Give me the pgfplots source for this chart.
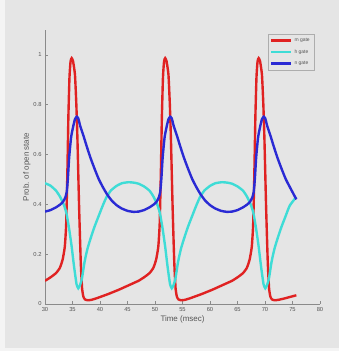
\documentclass[border=0pt]{standalone}
\usepackage{pgfplots}
\pgfplotsset{compat=1.18}
\usepackage{fontspec}
\setmainfont{Liberation Sans}
\definecolor{bgpanel}{HTML}{E5E5E5}
\definecolor{bgout}{HTML}{F4F4F4}
\definecolor{mred}{HTML}{E02222}
\definecolor{hcyan}{HTML}{3EDCD6}
\definecolor{nblue}{HTML}{2A2AD4}
\definecolor{axgray}{HTML}{8A8A8A}
\definecolor{txtgray}{HTML}{555555}
\begin{document}
\begin{tikzpicture}
\fill[bgout] (0,0) rectangle (339bp,351bp);
\fill[bgpanel] (5bp,3bp) rectangle (339bp,351bp);
\begin{axis}[
  at={(45bp,47bp)}, anchor=south west,
  scale only axis, width=275bp, height=274bp,
  xmin=30, xmax=80, ymin=0, ymax=1.1,
  axis x line*=bottom, axis y line*=left,
  axis line style={axgray, line width=0.6pt},
  tick style={axgray, line width=0.5pt},
  tick align=inside, major tick length=3bp,
  xtick={30,35,40,45,50,55,60,65,70,75,80},
  ytick={0,0.2,0.4,0.6,0.8,1},
  yticklabels={0,0.2,0.4,0.6,0.8,1},
  /pgf/number format/assume math mode=true,
  tick label style={font=\fontsize{5.8}{6.5}\selectfont, text=txtgray},
  xlabel={Time (msec)}, ylabel={Prob. of open state},
  label style={font=\fontsize{8}{9}\selectfont, text=txtgray},
  xlabel style={yshift=3bp},
  ylabel style={yshift=-4bp},
  legend style={at={(0.978,0.985)}, anchor=north east, draw=axgray!70, fill=bgpanel,
    font=\fontsize{5}{6}\selectfont, text=txtgray, row sep=2.6bp, inner sep=2bp},
  legend cell align=left,
  legend image code/.code={\draw[#1] (0bp,0bp) -- (20bp,0bp);},
]
\addplot[mred, line width=2.4pt, smooth, tension=0.3] coordinates {
(30,0.093)(31,0.107)(32,0.124)(32.7,0.145)(33.2,0.178)(33.6,0.23)(33.85,0.32)(34.06,0.52)(34.25,0.75)(34.45,0.91)(34.65,0.975)(34.85,0.987)(35.1,0.975)(35.45,0.92)(35.7,0.8)(35.9,0.66)(36.2,0.39)(36.5,0.17)(36.75,0.06)(37.0,0.028)(37.3,0.018)(37.8,0.015)(38.5,0.017)(39.5,0.024)(40.5,0.032)(41.5,0.040)(42.5,0.049)(43.5,0.058)(44.5,0.068)(45.5,0.078)(46.5,0.088)
(47,0.093)(48,0.107)(49,0.124)(49.7,0.145)(50.2,0.178)(50.6,0.23)(50.85,0.32)(51.06,0.52)(51.25,0.75)(51.45,0.91)(51.65,0.975)(51.85,0.987)(52.1,0.975)(52.45,0.92)(52.7,0.8)(52.9,0.66)(53.2,0.39)(53.5,0.17)(53.75,0.06)(54.0,0.028)(54.3,0.018)(54.8,0.015)(55.5,0.017)(56.5,0.024)(57.5,0.032)(58.5,0.040)(59.5,0.049)(60.5,0.058)(61.5,0.068)(62.5,0.078)(63.5,0.088)
(64,0.093)(65,0.107)(66,0.124)(66.7,0.145)(67.2,0.178)(67.6,0.23)(67.85,0.32)(68.06,0.52)(68.25,0.75)(68.45,0.91)(68.65,0.975)(68.85,0.987)(69.1,0.975)(69.45,0.92)(69.7,0.8)(69.9,0.66)(70.2,0.39)(70.5,0.17)(70.75,0.06)(71.0,0.028)(71.3,0.018)(71.8,0.015)(72.5,0.017)(73.5,0.022)(74.5,0.028)(75.7,0.035)
};
\addlegendentry{m gate}
\addplot[hcyan, line width=2.4pt, smooth, tension=0.3] coordinates {
(30,0.485)(31,0.475)(32,0.455)(32.7,0.432)(33.4,0.40)(33.9,0.364)(34.4,0.30)(34.85,0.23)(35.2,0.165)(35.45,0.123)(35.75,0.078)(36.05,0.063)(36.35,0.075)(36.7,0.1)(37.2,0.17)(37.7,0.22)(38.2,0.257)(39.0,0.31)(39.7,0.35)(40.5,0.395)(41.2,0.43)(42.0,0.456)(43.0,0.474)(44.0,0.485)(45.2,0.489)(46.2,0.487)
(47,0.483)(48,0.472)(49,0.455)(49.7,0.432)(50.4,0.40)(50.9,0.364)(51.4,0.30)(51.85,0.23)(52.2,0.165)(52.45,0.123)(52.75,0.078)(53.05,0.063)(53.35,0.075)(53.7,0.1)(54.2,0.17)(54.7,0.22)(55.2,0.257)(56.0,0.31)(56.7,0.35)(57.5,0.395)(58.2,0.43)(59.0,0.456)(60.0,0.474)(61.0,0.485)(62.2,0.489)(63.2,0.487)
(64,0.483)(65,0.472)(66,0.455)(66.7,0.432)(67.4,0.40)(67.9,0.364)(68.4,0.30)(68.85,0.23)(69.2,0.165)(69.45,0.123)(69.75,0.078)(70.05,0.063)(70.35,0.075)(70.7,0.1)(71.2,0.17)(71.7,0.22)(72.2,0.257)(73.0,0.31)(73.7,0.35)(74.5,0.395)(75.7,0.43)
};
\addlegendentry{h gate}
\addplot[nblue, line width=2.4pt, smooth, tension=0.3] coordinates {
(30,0.371)(31,0.377)(32,0.388)(32.8,0.40)(33.3,0.411)(33.7,0.428)(33.95,0.45)(34.15,0.50)(34.4,0.59)(34.75,0.67)(35.15,0.715)(35.45,0.742)(35.76,0.752)(36.05,0.745)(36.4,0.715)(37.0,0.675)(37.6,0.632)(38.3,0.585)(39.1,0.538)(39.8,0.50)(40.6,0.466)(41.3,0.44)(42.1,0.416)(43.0,0.397)(43.9,0.384)(45.0,0.374)(46.05,0.37)
(47,0.371)(48,0.377)(49,0.388)(49.8,0.40)(50.3,0.411)(50.7,0.428)(50.95,0.45)(51.15,0.50)(51.4,0.59)(51.75,0.67)(52.15,0.715)(52.45,0.742)(52.76,0.752)(53.05,0.745)(53.4,0.715)(54.0,0.675)(54.6,0.632)(55.3,0.585)(56.1,0.538)(56.8,0.50)(57.6,0.466)(58.3,0.44)(59.1,0.416)(60.0,0.397)(60.9,0.384)(62.0,0.374)(63.05,0.37)
(64,0.371)(65,0.377)(66,0.388)(66.8,0.40)(67.3,0.411)(67.7,0.428)(67.95,0.45)(68.15,0.50)(68.4,0.59)(68.75,0.67)(69.15,0.715)(69.45,0.742)(69.76,0.752)(70.05,0.745)(70.4,0.715)(71.0,0.675)(71.6,0.632)(72.3,0.585)(73.1,0.538)(73.8,0.50)(74.6,0.466)(75.7,0.42)
};
\addlegendentry{n gate}
\end{axis}
\end{tikzpicture}
\end{document}
